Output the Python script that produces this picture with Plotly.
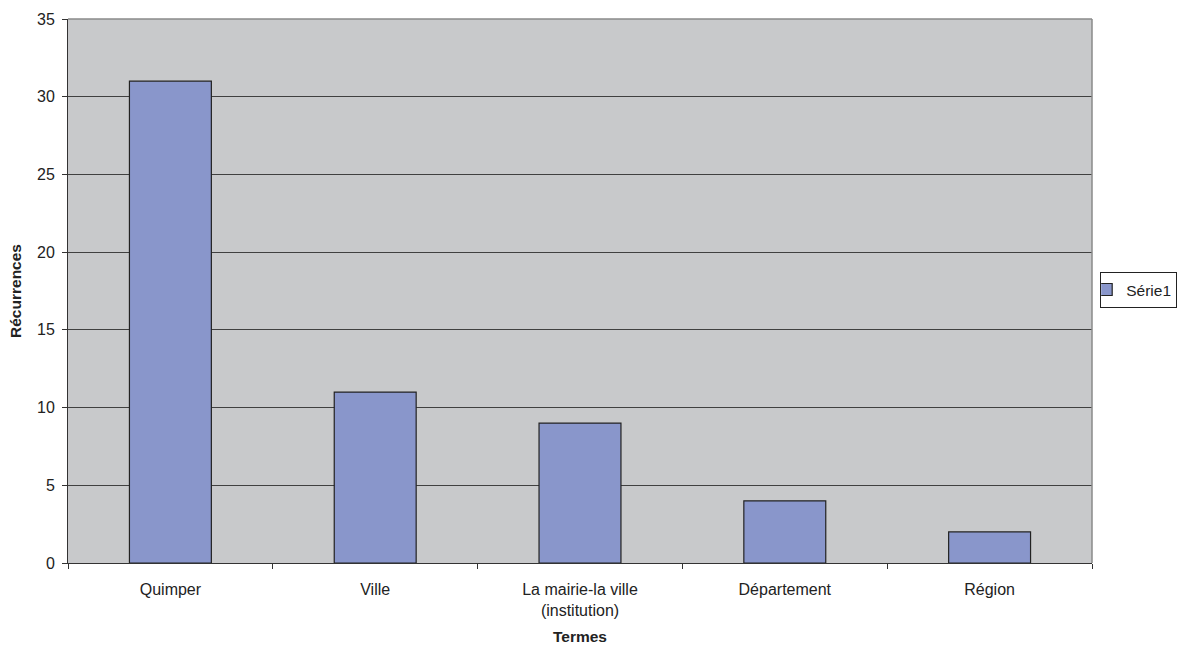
import plotly.graph_objects as go

categories = ["Quimper", "Ville", "La mairie-la ville<br>(institution)", "Département", "Région"]
values = [31, 11, 9, 4, 2]
series_name = "Série1"
y_ticks = [0, 5, 10, 15, 20, 25, 30, 35]

fig = go.Figure()
fig.add_trace(go.Bar(
    x=categories, y=values, name=series_name,
    marker=dict(color="#8996CB", line=dict(color="#222222", width=1.2)),
    showlegend=True,
))

font_family = "Liberation Sans, Arial, sans-serif"
fig.update_layout(
    width=1182, height=648,
    margin=dict(l=68, r=90, t=19, b=85, autoexpand=False),
    paper_bgcolor="white",
    plot_bgcolor="#C8C9CB",
    bargap=0.6,
    font=dict(family=font_family, size=16, color="#222222"),
    showlegend=True,
    legend=dict(
        x=1.008, y=0.502, xanchor="left", yanchor="middle",
        bordercolor="#222222", borderwidth=1, bgcolor="white",
        font=dict(size=15.5, color="#222222"),
        itemwidth=30, indentation=-15,
    ),
    xaxis=dict(
        type="category", automargin=False,
        showline=True, linecolor="#333333", linewidth=1,
        ticks="outside", ticklen=5, tickcolor="#333333", tickson="boundaries",
        ticklabelstandoff=12,
        showgrid=False,
        title=dict(text="<b>Termes</b>", font=dict(size=15.5), standoff=13),
        range=[-0.5, 4.5],
    ),
    yaxis=dict(
        range=[0, 35], tickvals=y_ticks, automargin=False,
        showline=True, linecolor="#333333", linewidth=1,
        ticks="outside", ticklen=5, tickcolor="#333333",
        ticklabelstandoff=4,
        showgrid=True, gridcolor="#404040", gridwidth=1,
        zeroline=False,
        title=dict(text="<b>Récurrences</b>", font=dict(size=15.5), standoff=11),
    ),
    shapes=[
        dict(type="line", xref="paper", yref="paper", x0=0, x1=1, y0=1, y1=1,
             line=dict(color="#8a8a8a", width=1.5)),
        dict(type="line", xref="paper", yref="paper", x0=1, x1=1, y0=0, y1=1,
             line=dict(color="#8a8a8a", width=1.5)),
    ],
)

fig.write_html(
    "out.html",
    config={"displayModeBar": False},
    post_script="document.body.style.margin='0';document.body.style.overflow='hidden';",
)
